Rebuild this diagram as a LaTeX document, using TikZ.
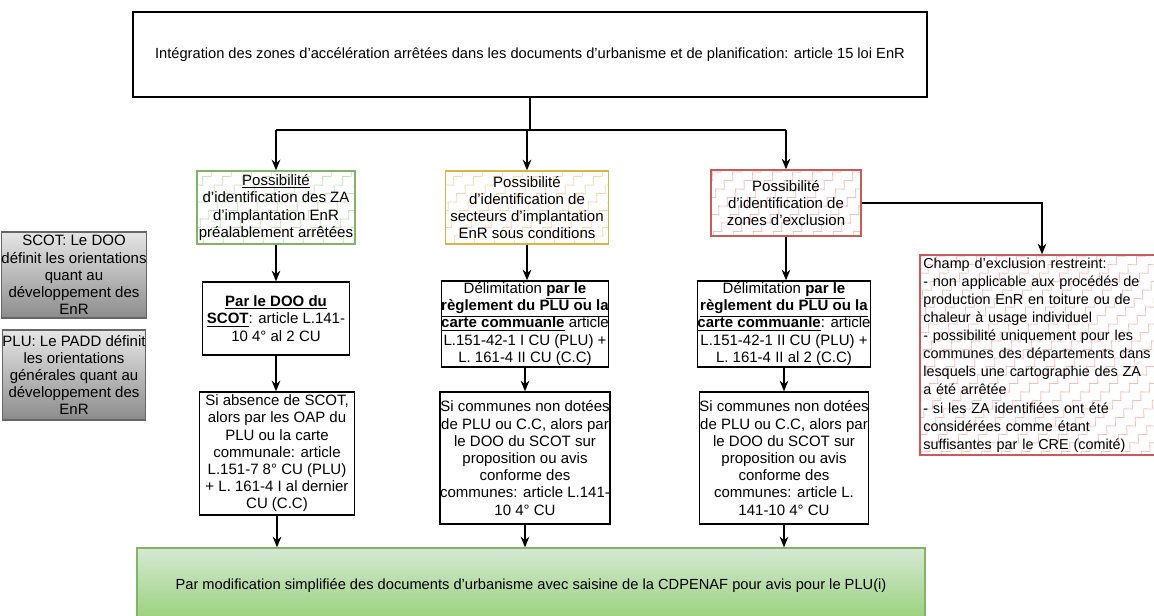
\documentclass[tikz,border=0pt]{standalone}
\usepackage{fontspec}
\setmainfont{Liberation Sans}
\usetikzlibrary{arrows.meta,decorations.pathmorphing}

\newcommand{\flowfont}{\fontsize{11.25}{12.9}\selectfont}
\newcommand{\headfont}{\fontsize{11}{13}\selectfont}
\newcommand{\notefont}{\fontsize{10.8}{13.6}\selectfont}
\definecolor{grnline}{RGB}{130,179,102}
\definecolor{grnfill}{RGB}{213,232,212}
\definecolor{grndark}{RGB}{151,208,119}
\definecolor{grnhatch}{RGB}{196,226,186}
\definecolor{ylwline}{RGB}{222,176,72}
\definecolor{ylwhatch}{RGB}{250,214,175}
\definecolor{redline}{RGB}{200,90,90}
\definecolor{redhatch}{RGB}{244,190,188}

\tikzset{every picture/.style={line width=0.75pt}}
\tikzset{
  box/.style={draw, line width=1pt, align=center, inner sep=0pt, font=\flowfont},
  wh/.style 2 args={minimum width=#1*0.75pt, minimum height=#2*0.75pt},
  hatch/.style={path picture={
      \foreach \k in {-14,...,14}
        \draw[#1, line width=0.6pt, decorate,
              decoration={zigzag, segment length=9pt, amplitude=2.4pt}]
          ([xshift=\k*15pt]path picture bounding box.center) ++(-120pt,-120pt) -- ++(240pt,240pt);
  }},
  greybox/.style={box, draw=black!60, top color=black!10, bottom color=black!45},
  link/.style={line width=1pt},
  arrow/.style={line width=1pt, -{Stealth[length=8pt,width=6.5pt]}},
}

\begin{document}
\begin{tikzpicture}[x=0.75pt,y=0.75pt,yscale=-1]
	\useasboundingbox (0,0) rectangle (1154,616);

	%Shape: Rectangle [top] 
	\node[box, font=\headfont, wh={794}{85}] (top) at (530,54.5)
	  {Intégration des zones d'accélération arrêtées dans les documents d'urbanisme et de planification: article 15 loi EnR};

	%Shape: Rectangle [zones] 
	\node[box, draw=grnline, hatch=grnhatch, wh={158}{73}] (zg) at (276,207.5)
	  {\underline{Possibilité}\\d'identification des ZA\\d'implantation EnR\\préalablement arrêtées};
	\node[box, draw=ylwline, hatch=ylwhatch, wh={163}{73}] (zo) at (527,207.5)
	  {Possibilité\\d'identification de\\secteurs d'implantation\\EnR sous conditions};
	\node[box, draw=redline, hatch=redhatch, wh={150}{66}] (zr) at (786,203)
	  {Possibilité\\d'identification de\\zones d'exclusion};

	%Shape: Rectangle [exclusion] 
	\node[box, font=\notefont, draw=redline, hatch=redhatch, wh={244}{200},
	      text width=178pt, align=left] (exc) at (1042,355)
	  {Champ d'exclusion restreint:\\
	   - non applicable aux procédés de\\
	   production EnR en toiture ou de\\
	   chaleur à usage individuel\\
	   - possibilité uniquement pour les\\
	   communes des départements dans\\
	   lesquels une cartographie des ZA\\
	   a été arrêtée\\
	   - si les ZA identifiées ont été\\
	   considérées comme étant\\
	   suffisantes par le CRE (comité)};

	%Shape: Rectangle [delimitation] 
	\node[box, wh={147}{73}] (p1) at (276,318.5)
	  {\underline{\textbf{Par le DOO du}}\\\underline{\textbf{SCOT}}: article L.141-\\10 4° al 2 CU};
	\node[box, wh={167}{86}] (p2) at (525,324)
	  {Délimitation \underline{\textbf{par le}}\\\underline{\textbf{règlement du PLU ou la}}\\\underline{\textbf{carte commuanle}} article\\L.151-42-1 I CU (PLU) +\\L. 161-4 II CU (C.C)};
	\node[box, wh={165}{86}] (p3) at (784,324)
	  {Délimitation \underline{\textbf{par le}}\\\underline{\textbf{règlement du PLU ou la}}\\\underline{\textbf{carte commuanle}}: article\\L.151-42-1 II CU (PLU) +\\L. 161-4 II al 2 (C.C)};

	%Shape: Rectangle [subsidiary] 
	\node[box, wh={155}{123}] (s1) at (277,453.5)
	  {Si absence de SCOT,\\alors par les OAP du\\PLU ou la carte\\communale: article\\L.151-7 8° CU (PLU)\\+ L. 161-4 I al dernier\\CU (C.C)};
	\node[box, wh={167}{132}] (s2) at (525,458)
	  {Si communes non dotées\\de PLU ou C.C, alors par\\le DOO du SCOT sur\\proposition ou avis\\conforme des\\communes: article L.141-\\10 4° CU};
	\node[box, wh={165}{132}] (s3) at (784,458)
	  {Si communes non dotées\\de PLU ou C.C, alors par\\le DOO du SCOT sur\\proposition ou avis\\conforme des\\communes: article L.\\141-10 4° CU};

	%Shape: Rectangle [modification] 
	\node[box, font=\headfont, draw=grnline, top color=grnfill, bottom color=grndark, wh={788}{76}] (bot) at (531,586)
	  {Par modification simplifiée des documents d'urbanisme avec saisine de la CDPENAF pour avis pour le PLU(i)};

	%Shape: Rectangle [notes] 
	\node[greybox, wh={128}{86}] (scot) at (74,275)
	  {SCOT: Le DOO\\définit les orientations\\quant au\\développement des\\EnR};
	\node[greybox, wh={128}{90}] (plu) at (74,375)
	  {PLU: Le PADD définit\\les orientations\\générales quant au\\développement des\\EnR};

	%Straight Lines [split] 
	\coordinate (split) at (530,130);
	\draw[link] (top.south) -- (split);
	\draw[link] (zg.north |- split) -- (zr.north |- split);
	\draw[arrow] (zg.north |- split) -- (zg.north);
	\draw[arrow] (zo.north |- split) -- (zo.north);
	\draw[arrow] (zr.north |- split) -- (zr.north);
	\draw[arrow] (zr.east) -| (exc.north);

	%Straight Lines [columns] 
	\draw[arrow] (zg.south) -- (zg.south |- p1.north);
	\draw[arrow] (zo.south) -- (zo.south |- p2.north);
	\draw[arrow] (zr.south) -- (zr.south |- p3.north);
	\draw[arrow] (p1.south) -- (p1.south |- s1.north);
	\draw[arrow] (p2.south) -- (p2.south |- s2.north);
	\draw[arrow] (p3.south) -- (p3.south |- s3.north);
	\draw[arrow] (s1.south) -- (s1.south |- bot.north);
	\draw[arrow] (s2.south) -- (s2.south |- bot.north);
	\draw[arrow] (s3.south) -- (s3.south |- bot.north);

\end{tikzpicture}
\end{document}
